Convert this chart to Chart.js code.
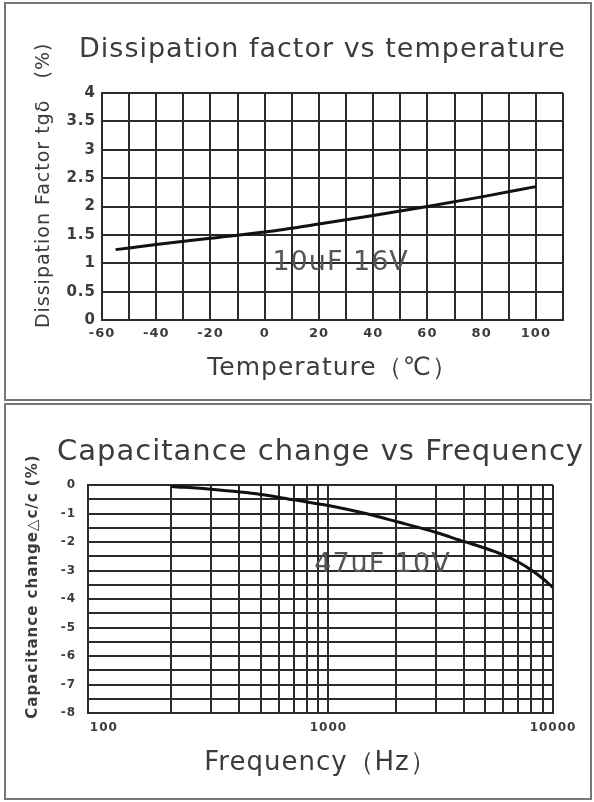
<!DOCTYPE html>
<html>
<head>
<meta charset="utf-8">
<script src="https://cdn.jsdelivr.net/npm/chart.js@4"></script>
<style>
  body { margin:0; background:#fff; width:594px; height:802px; position:relative; overflow:hidden; }
  .panel { position:absolute; left:4px; width:588px; border:2px solid #777; box-sizing:border-box; }
  #p1 { top:2px; height:399px; }
  #p2 { top:403px; height:397px; }
  canvas { position:absolute; left:0; }
  #tempChart { top:0; }
  #freqChart { top:400px; }
</style>
</head>
<body>
<div class="panel" id="p1"></div>
<div class="panel" id="p2"></div>
<canvas id="tempChart" width="594" height="400"></canvas>
<canvas id="freqChart" width="594" height="402"></canvas>
<script>
// Capacitor curves: DF vs temperature, cap change vs frequency

const tempC = [-55, -40, -20, 0, 20, 40, 60, 80, 100];
const dissipation = [1.24, 1.33, 1.44, 1.55, 1.69, 1.84, 2.0, 2.17, 2.35];
const tempLabels = [-60, -40, -20, 0, 20, 40, 60, 80, 100];

const freqHz = [200, 300, 500, 700, 1000, 1500, 2000, 3000, 4000, 5000, 6000, 7000, 8000, 9000, 10000];
const capChange = [-0.05, -0.15, -0.33, -0.52, -0.72, -1.02, -1.28, -1.66, -1.98, -2.22, -2.45, -2.7, -2.98, -3.28, -3.6];
const freqGrid = [100, 200, 300, 400, 500, 600, 700, 800, 900, 1000, 2000, 3000, 4000, 5000, 6000, 7000, 8000, 9000, 10000];
const freqLabels = [100, 1000, 10000];

const GRID = '#2a2a2a';
const TEXT = '#3c3c3c';
Chart.defaults.font.family = "'DejaVu Sans', sans-serif";
Chart.defaults.color = TEXT;

// wide lettering, close to the original's geometric face
const spacing = {
  id: 'spacing',
  beforeDraw(chart) { chart.ctx.letterSpacing = '1px'; },
  afterDraw(chart) { chart.ctx.letterSpacing = '0px'; }
};

// heading drawn above the plot (the built-in title squeezes long text)
const heading = {
  id: 'heading',
  beforeDatasetsDraw(chart, args, opts) {
    const { ctx, chartArea } = chart;
    ctx.save();
    ctx.font = opts.font;
    ctx.fillStyle = TEXT;
    ctx.textAlign = 'center';
    ctx.textBaseline = 'middle';
    ctx.fillText(opts.text, (chartArea.left + chartArea.right) / 2 + opts.dx, chartArea.top + opts.dy);
    ctx.restore();
  }
};

const noteText = {
  id: 'noteText',
  afterDatasetsDraw(chart, args, opts) {
    const { ctx, scales } = chart;
    ctx.save();
    ctx.font = opts.font;
    ctx.fillStyle = opts.color;
    ctx.textAlign = 'center';
    ctx.textBaseline = 'middle';
    ctx.fillText(opts.text, scales.x.getPixelForValue(opts.x), scales.y.getPixelForValue(opts.y));
    ctx.restore();
  }
};

function gridOpts() {
  return { color: GRID, lineWidth: 2, drawTicks: false };
}

new Chart(document.getElementById('tempChart'), {
  type: 'line',
  data: {
    datasets: [{
      data: tempC.map((t, i) => ({ x: t, y: dissipation[i] })),
      borderColor: '#111', borderWidth: 3, pointRadius: 0,
      cubicInterpolationMode: 'monotone'
    }]
  },
  plugins: [spacing, heading, noteText],
  options: {
    responsive: false,
    animation: false,
    layout: { padding: { left: 0, right: 31, top: 93, bottom: 0 } },
    plugins: {
      legend: { display: false },
      tooltip: { enabled: false },
      title: { display: false },
      heading: { text: 'Dissipation factor vs temperature', font: '27px "DejaVu Sans"', dx: -10, dy: -43 },
      noteText: { text: '10uF 16V', x: 28, y: 1.0, font: '27px "DejaVu Sans"', color: '#555' }
    },
    scales: {
      x: {
        type: 'linear', min: -60, max: 110,
        grid: gridOpts(),
        border: { color: GRID, width: 2 },
        ticks: {
          stepSize: 10, padding: 6, maxRotation: 0, autoSkip: false,
          font: { size: 13, weight: 'bold' },
          callback: v => tempLabels.includes(v) ? String(v) : ''
        },
        title: {
          display: true, text: 'Temperature（℃）',
          font: { size: 25 }, color: TEXT, padding: { top: 0, bottom: 17 }
        },
        afterFit: s => { s.height = 80; }
      },
      y: {
        min: 0, max: 4,
        grid: gridOpts(),
        border: { color: GRID, width: 2 },
        ticks: { stepSize: 0.5, padding: 6, autoSkip: false, font: { size: 15, weight: 'bold' }, callback: v => String(v) },
        title: {
          display: true, text: '      Dissipation Factor tgδ   (%)',
          font: { size: 19 }, color: TEXT, padding: { top: 33, bottom: 0 }
        },
        afterFit: s => { s.width = 102; }
      }
    }
  }
});

new Chart(document.getElementById('freqChart'), {
  type: 'line',
  data: {
    datasets: [{
      data: freqHz.map((f, i) => ({ x: f, y: capChange[i] })),
      borderColor: '#111', borderWidth: 3, pointRadius: 0,
      cubicInterpolationMode: 'monotone'
    }]
  },
  plugins: [spacing, heading, noteText],
  options: {
    responsive: false,
    animation: false,
    layout: { padding: { left: 0, right: 41, top: 85, bottom: 0 } },
    plugins: {
      legend: { display: false },
      tooltip: { enabled: false },
      title: { display: false },
      heading: { text: 'Capacitance change vs Frequency', font: '29px "DejaVu Sans"', dx: 0, dy: -33 },
      noteText: { text: '47uF 10V', x: 1740, y: -2.8, font: '27px "DejaVu Sans"', color: '#555' }
    },
    scales: {
      x: {
        type: 'logarithmic', min: 85, max: 10000,
        afterBuildTicks: s => { s.ticks = freqGrid.map(v => ({ value: v })); },
        grid: { color: c => (c.tick && c.tick.value === 100) ? 'rgba(0,0,0,0)' : GRID, lineWidth: 2, drawTicks: false },
        border: { color: GRID, width: 2 },
        ticks: {
          padding: 8, maxRotation: 0, autoSkip: false,
          font: { size: 12, weight: 'bold' },
          callback: v => freqLabels.includes(v) ? String(v) : ''
        },
        title: {
          display: true, text: 'Frequency（Hz）',
          font: { size: 26 }, color: TEXT, padding: { top: 0, bottom: 23 }
        },
        afterFit: s => { s.height = 89; }
      },
      y: {
        min: -8, max: 0,
        grid: gridOpts(),
        border: { color: GRID, width: 2 },
        ticks: {
          stepSize: 0.5, padding: 12, autoSkip: false, font: { size: 12, weight: 'bold' },
          callback: v => Number.isInteger(v) ? String(v) : ''
        },
        title: {
          display: true, text: '    Capacitance change△c/c (%)',
          font: { size: 15, weight: 'bold' }, color: TEXT, padding: { top: 24, bottom: 0 }
        },
        afterFit: s => { s.width = 88; }
      }
    }
  }
});
</script>
</body>
</html>
